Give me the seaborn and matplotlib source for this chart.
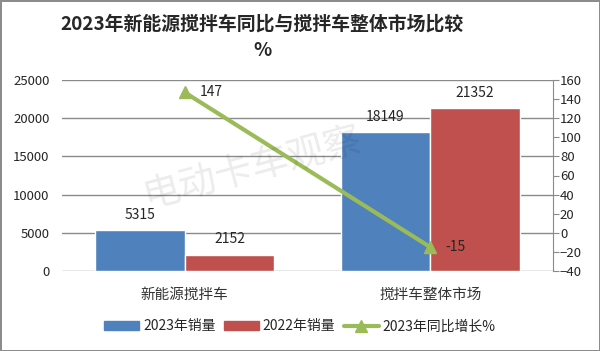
import matplotlib
matplotlib.use("Agg")
import matplotlib.pyplot as plt
import seaborn as sns
import pandas as pd
from matplotlib.patches import Patch
from matplotlib.lines import Line2D

categories = ["新能源搅拌车", "搅拌车整体市场"]
sales_2023 = [5315, 18149]
sales_2022 = [2152, 21352]
growth_pct = [147, -15]
series_names = ["2023年销量", "2022年销量"]
line_name = "2023年同比增长%"

sns.set_style("white")
plt.rcParams['font.family'] = ['Noto Sans CJK SC', 'DejaVu Sans']

blue, red, green = "#4F81BD", "#C0504D", "#9BBB59"

df = pd.DataFrame({
    "cat": categories * 2,
    "series": [series_names[0]] * 2 + [series_names[1]] * 2,
    "value": sales_2023 + sales_2022,
})

fig = plt.figure(figsize=(6, 3.51), dpi=100)
fig.patch.set_edgecolor("#8c8c8c")
fig.patch.set_linewidth(2)
ax = fig.add_axes([62 / 600, 80 / 351, 491 / 600, 191 / 351])

sns.barplot(data=df, x="cat", y="value", hue="series", palette=[blue, red],
            width=0.73, ax=ax, legend=False, saturation=1)
ax.set_ylim(0, 25000)
ax.set_yticks(range(0, 25001, 5000))
ax.yaxis.grid(True, color="#8a8a8a", linewidth=1)
ax.set_axisbelow(True)
ax.set_xlim(-0.5, 1.5)
ax.set_xlabel("")
ax.set_ylabel("")
for s in ["top", "right", "left", "bottom"]:
    ax.spines[s].set_visible(False)
ax.tick_params(axis="y", length=0, labelsize=9.5, pad=9)
ax.tick_params(axis="x", length=0, labelsize=10.5, pad=12, labelcolor="#333333")
for c in ax.containers:
    ax.bar_label(c, fmt="%d", fontsize=10, padding=6)

ax2 = ax.twinx()
ax2.plot([0, 1], growth_pct, color=green, linewidth=3, marker="^", markersize=9)
for x, v in zip([0, 1], growth_pct):
    ax2.annotate(str(v), (x, v), xytext=(11, 0), textcoords="offset points",
                 va="center", fontsize=10)
ax2.set_ylim(-40, 160)
ax2.set_yticks(range(-40, 161, 20))
for s in ["top", "left", "bottom"]:
    ax2.spines[s].set_visible(False)
ax2.spines["right"].set_color("#8a8a8a")
ax2.tick_params(axis="y", length=4, color="#8a8a8a", labelsize=9.5, pad=1)

fig.text(0.42, 0.52, "电动卡车观察", fontsize=27, color="#000000", alpha=0.08,
         rotation=15, ha="center", va="center")

fig.suptitle("2023年新能源搅拌车同比与搅拌车整体市场比较\n%", fontsize=13.6,
             fontweight="bold", x=0.437, y=0.958, linespacing=1.5)

handles = [Patch(color=blue), Patch(color=red),
           Line2D([], [], color=green, linewidth=3, marker="^", markersize=8)]
fig.legend(handles, series_names + [line_name], loc="center", ncol=3,
           bbox_to_anchor=(0.5, 0.07), frameon=False, fontsize=10,
           handlelength=2.5, handletextpad=0.3, columnspacing=0.6)

fig.savefig("out.png", dpi=100)
